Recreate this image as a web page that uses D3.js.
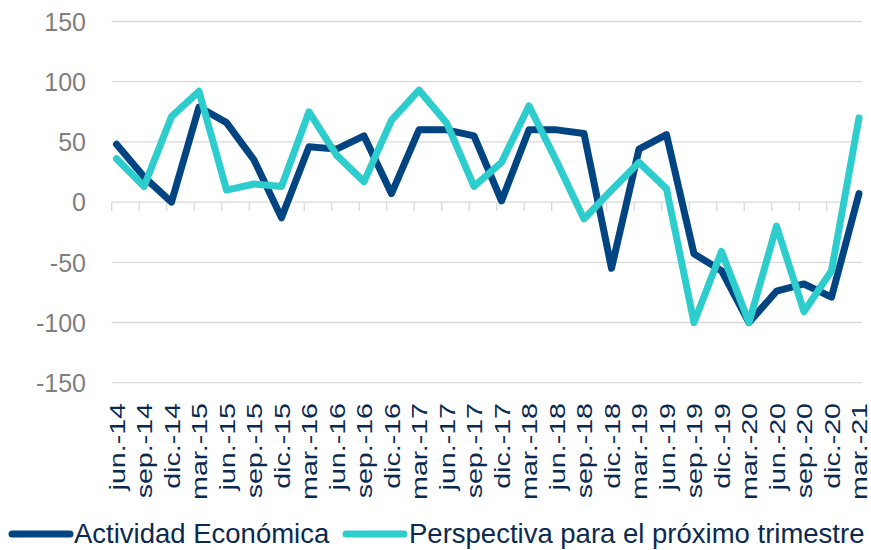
<!DOCTYPE html>
<html>
<head>
<meta charset="utf-8">
<script src="https://cdn.jsdelivr.net/npm/d3@7"></script>
<style>
  html, body { margin: 0; padding: 0; background: #ffffff; }
  svg { display: block; font-family: "Liberation Sans", Arial, sans-serif; }
</style>
</head>
<body>
<svg id="chart" width="871" height="550"></svg>
<script>
const categories = ["jun.-14","sep.-14","dic.-14","mar.-15","jun.-15","sep.-15","dic.-15","mar.-16","jun.-16","sep.-16","dic.-16","mar.-17","jun.-17","sep.-17","dic.-17","mar.-18","jun.-18","sep.-18","dic.-18","mar.-19","jun.-19","sep.-19","dic.-19","mar.-20","jun.-20","sep.-20","dic.-20","mar.-21"];
const actividad = [48, 21, 0, 79, 66, 35, -13, 46, 44, 55, 7, 60, 60, 55, 1, 60, 60, 57, -55, 44, 56, -43, -57, -100, -74, -68, -79, 7];
const perspectiva = [36, 13, 71, 92, 10, 15, 13, 75, 39, 17, 68, 93, 66, 13, 33, 80, 34, -14, 10, 33, 11, -100, -41, -100, -20, -91, -57, 70];
const yTicks = [-150, -100, -50, 0, 50, 100, 150];
const seriesNames = ["Actividad Económica", "Perspectiva para el próximo trimestre"];
const colors = ["#004481", "#2dcccd"];

const svg = d3.select("#chart");
const plotLeft = 111.7, plotRight = 862;

const x = d3.scalePoint().domain(categories).range([116.5, 859]);
const y = d3.scaleLinear().domain([-150, 150]).range([382.7, 21.5]);

// gridlines
svg.append("g").selectAll("line").data(yTicks).join("line")
  .attr("x1", plotLeft).attr("x2", plotRight)
  .attr("y1", d => y(d)).attr("y2", d => y(d))
  .attr("stroke", "#d9d9d9").attr("stroke-width", 1.3);

// y axis labels
const yAxis = d3.axisLeft(y).tickValues(yTicks).tickSize(0).tickPadding(0)
  .tickFormat(d => String(d));
const gy = svg.append("g").attr("transform", `translate(86,0)`).call(yAxis);
gy.select(".domain").remove();
gy.selectAll("text")
  .attr("font-family", "'Liberation Sans', Arial, sans-serif")
  .attr("font-size", 25).attr("fill", "#7f7f7f").attr("dy", "0.35em");

// x tick marks on zero line
svg.append("g").selectAll("line").data(categories).join("line")
  .attr("x1", d => x(d) - 4.8).attr("x2", d => x(d) - 4.8)
  .attr("y1", y(0)).attr("y2", y(0) + 9)
  .attr("stroke", "#d9d9d9").attr("stroke-width", 1.3);

// x labels (rotated)
svg.append("g").selectAll("text").data(categories).join("text")
  .attr("transform", d => `translate(${x(d) + 0.5},403) rotate(-90) scale(1.3,1)`)
  .attr("text-anchor", "end")
  .attr("dy", "0.36em")
  .attr("font-size", 22)
  .attr("fill", "#0b2a50")
  .text(d => d);

// lines
const line = d3.line().x((d, i) => x(categories[i])).y(d => y(d));
[actividad, perspectiva].forEach((s, k) => {
  svg.append("path").datum(s)
    .attr("d", line)
    .attr("fill", "none")
    .attr("stroke", colors[k])
    .attr("stroke-width", 7)
    .attr("stroke-linejoin", "round")
    .attr("stroke-linecap", "round");
});

// legend
const legendItems = [
  { x1: 12, x2: 70, tx: 74 },
  { x1: 346, x2: 404, tx: 409 }
];
legendItems.forEach((it, k) => {
  svg.append("line")
    .attr("x1", it.x1).attr("x2", it.x2)
    .attr("y1", 534).attr("y2", 534)
    .attr("stroke", colors[k]).attr("stroke-width", 7)
    .attr("stroke-linecap", "round");
  svg.append("text")
    .attr("x", it.tx).attr("y", 543)
    .attr("font-size", 27.5)
    .attr("fill", "#0b2a50")
    .text(seriesNames[k]);
});
</script>
</body>
</html>
